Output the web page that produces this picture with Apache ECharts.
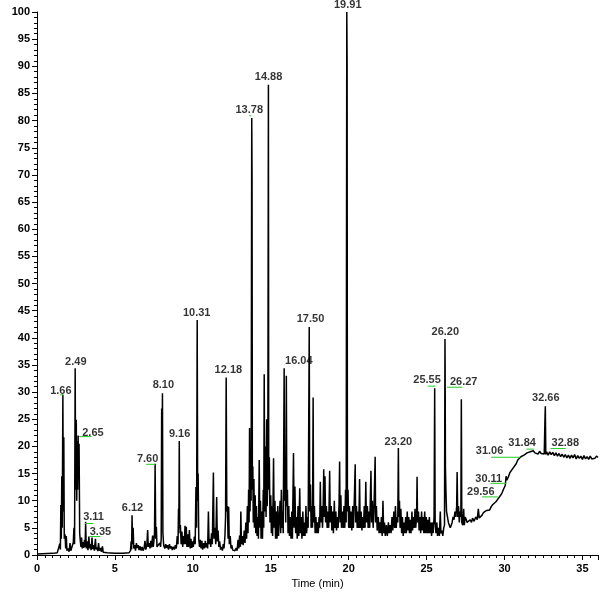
<!DOCTYPE html>
<html>
<head>
<meta charset="utf-8">
<script src="https://cdn.jsdelivr.net/npm/echarts@6/dist/echarts.min.js"></script>
<style>html,body{margin:0;padding:0;background:#fff;}#c{width:600px;height:592px;}</style>
</head>
<body>
<div id="c"></div>
<script>
// Chromatogram trace, [time (min), relative abundance]
const traceA = [[0,0.2],[1.0,0.3],[1.3,0.4],[1.42,0.6],[1.46,2.1],[1.5,1.0],[1.53,9.2],[1.56,3],[1.59,14.5],[1.62,5],[1.66,29.5],[1.69,8],[1.72,21.7],[1.75,3],[1.8,3.8],[1.84,1.2],[1.88,3.5],[1.92,0.8],[2.0,1.2],[2.06,0.6],[2.12,2.2],[2.17,0.8],[2.22,1.0],[2.28,0.6],[2.33,2.3],[2.37,5.0],[2.41,2],[2.45,34.4],[2.48,12],[2.52,24.9],[2.55,10],[2.58,21],[2.61,12],[2.64,22],[2.67,14],[2.7,20.5],[2.74,4],[2.78,2.5],[2.82,1.5],[2.86,3.2],[2.9,1.2],[2.95,2.4],[3.0,1.3],[3.05,2.8],[3.09,1.5],[3.12,6.1],[3.16,1.2],[3.22,2.5],[3.27,0.9],[3.33,3.4],[3.37,1.2],[3.42,2.0],[3.47,0.9],[3.53,3.2],[3.57,1.1],[3.63,1.8],[3.68,0.8],[3.75,3.0],[3.79,1.0],[3.85,1.4],[3.9,0.7],[3.95,2.2],[4.0,0.8],[4.08,1.3],[4.13,0.6],[4.2,1.6],[4.25,0.5],[4.35,0.7],[4.5,0.4],[5.0,0.3],[5.5,0.3],[5.9,0.4],[6.0,0.8],[6.04,2.5],[6.07,1],[6.1,7.3],[6.13,2],[6.17,5],[6.21,1.2],[6.27,1.8],[6.32,0.8],[6.38,2.2],[6.43,1.3],[6.5,1.8],[6.55,0.9],[6.62,1.6],[6.68,0.8],[6.75,1.5],[6.8,0.8],[6.87,1.2],[6.93,2.6],[6.98,1],[7.05,1.8],[7.1,4.6],[7.14,1.5],[7.2,2.2],[7.25,1.2],[7.3,2.6],[7.35,1.4],[7.42,3.6],[7.46,1.5],[7.5,2.5],[7.54,4.0],[7.58,16.8],[7.62,3],[7.66,5.2],[7.7,1.5],[7.76,1.8],[7.82,1.2],[7.88,2.2],[7.93,1.5],[7.97,3],[8.0,27],[8.02,15],[8.05,29.8],[8.08,4],[8.13,1.8],[8.2,1.2],[8.26,2.0],[8.32,1.3],[8.38,1.8],[8.44,1.0],[8.5,2.0],[8.55,1.2],[8.62,1.6],[8.68,0.9],[8.75,1.5],[8.82,1.0],[8.88,1.8],[8.94,1.2],[9.0,3.5],[9.05,2],[9.08,8.5],[9.1,4],[9.13,21],[9.16,5],[9.2,5.5],[9.25,2],[9.3,4.3],[9.35,1.5],[9.4,3.5],[9.45,2],[9.5,5.4],[9.53,2],[9.58,5.2],[9.62,1.5],[9.67,3.8],[9.72,1.5],[9.78,4.6],[9.83,1.2],[9.88,3],[9.93,1.3],[9.98,2.5],[10.03,1.5],[10.1,3.4],[10.15,2],[10.2,12.5],[10.24,5],[10.28,43.3],[10.31,10],[10.34,15],[10.38,3],[10.43,1.5],[10.48,2.8],[10.53,1.2],[10.58,2.6],[10.63,1.0],[10.7,2.2],[10.75,1.2],[10.8,2.6],[10.85,1.4],[10.9,2.2],[10.95,1.2],[11.0,8],[11.04,2],[11.1,3],[11.15,1.5],[11.2,4],[11.25,2],[11.32,15.2],[11.36,3],[11.42,5],[11.47,2],[11.53,10.7],[11.57,2.5],[11.62,4.5],[11.67,1.5],[11.72,2.5],[11.78,1.0],[11.85,1.5],[11.9,0.8],[11.95,2.0],[12.0,1.2],[12.06,3.5],[12.1,7],[12.14,32.7],[12.18,8],[12.22,9],[12.26,3],[12.3,8.9],[12.34,2],[12.4,3.5],[12.45,1.2],[12.5,1.8],[12.56,0.9],[12.62,1.2],[12.7,0.8],[12.78,1.3],[12.84,0.8],[12.9,2.8],[12.95,1.2],[13.0,3.6],[13.05,1.5],[13.08,8],[13.12,2],[13.18,3.5],[13.23,1.8],[13.3,4.5],[13.35,2.2],[13.4,6],[13.45,3],[13.5,9],[13.54,4],[13.58,12],[13.61,6],[13.64,23.4],[13.67,8],[13.71,15],[13.74,10],[13.78,80.5],[13.8,69.5],[13.82,12],[13.85,16.3],[13.88,6],[13.92,14],[13.95,5],[14.0,11],[14.04,4],[14.08,9],[14.12,3.5],[14.17,7],[14.21,3],[14.26,17.5],[14.3,5],[14.34,10],[14.38,3],[14.43,8],[14.47,3],[14.52,12],[14.55,5],[14.58,33.3],[14.62,8],[14.66,20],[14.7,7],[14.74,25],[14.77,9],[14.81,14],[14.85,86.6],[14.87,12],[14.91,18],[14.95,6]];
const traceB = [[15.0,11],[15.04,4],[15.08,9],[15.12,3.5],[15.18,17.8],[15.22,5],[15.27,10],[15.31,3],[15.36,8],[15.4,3],[15.45,9],[15.5,3.5],[15.55,7],[15.6,10],[15.64,4],[15.68,12],[15.72,5],[15.76,8],[15.8,4],[15.86,34.4],[15.89,10],[15.93,18],[15.96,6],[16.0,33],[16.03,9],[16.07,12],[16.11,4],[16.16,9],[16.2,3.5],[16.25,7],[16.3,3],[16.35,8],[16.39,3],[16.46,18.8],[16.5,5],[16.55,12.6],[16.6,4],[16.65,7],[16.7,3],[16.75,9],[16.8,3.5],[16.86,12.3],[16.9,4],[16.95,7],[17.0,3],[17.06,8],[17.1,3.5],[17.16,6],[17.2,3.5],[17.26,9],[17.3,4],[17.36,7],[17.4,5],[17.47,42],[17.5,8],[17.55,13],[17.59,5],[17.64,9],[17.68,5],[17.72,29],[17.75,6],[17.8,9],[17.85,4],[17.9,7],[17.95,4],[18.0,6],[18.05,4],[18.1,7],[18.14,5],[18.18,13.5],[18.22,6],[18.28,9],[18.32,5],[18.36,8],[18.4,15.8],[18.43,7],[18.48,14.5],[18.52,6],[18.57,9],[18.62,5],[18.67,8],[18.72,5],[18.78,15.5],[18.82,6],[18.88,9],[18.92,4.5],[18.98,8],[19.02,4],[19.08,10],[19.12,5],[19.18,8],[19.22,4.5],[19.28,7],[19.32,5],[19.38,9],[19.42,17.2],[19.45,6],[19.5,11],[19.54,5],[19.6,8],[19.65,5],[19.7,9],[19.75,5],[19.8,12],[19.84,6],[19.88,100],[19.9,90.5],[19.92,8],[19.96,12],[20.0,5],[20.05,9],[20.1,5],[20.15,8],[20.2,4.5],[20.26,9],[20.3,5],[20.36,10],[20.42,16.7],[20.45,6],[20.5,9],[20.55,5],[20.6,8],[20.65,5],[20.7,14],[20.74,5],[20.8,8],[20.85,4.5],[20.9,7],[20.95,5],[21.0,9],[21.05,5],[21.1,13.5],[21.14,6],[21.2,9],[21.25,5],[21.3,8],[21.35,5],[21.43,15.5],[21.47,6],[21.52,10],[21.57,5],[21.62,8],[21.7,18.1],[21.73,6],[21.78,9],[21.83,4.5],[21.9,7],[21.95,4],[22.0,6],[22.05,4],[22.1,7],[22.15,3.5],[22.2,10],[22.25,4],[22.3,6],[22.35,3.5],[22.42,5.5],[22.48,3.5],[22.55,6],[22.6,4],[22.66,5.5],[22.72,4],[22.78,7],[22.83,4.5],[22.9,8],[22.95,5],[23.0,9],[23.05,5],[23.1,7],[23.15,6],[23.19,19.7],[23.22,7],[23.26,10],[23.3,5],[23.35,8.5],[23.4,4],[23.45,7],[23.5,3.5],[23.55,6],[23.6,4],[23.66,7],[23.7,4],[23.76,8],[23.8,4.5],[23.86,7],[23.9,4],[23.96,6.5],[24.0,4],[24.06,8],[24.1,4.5],[24.16,7],[24.2,5],[24.26,8.5],[24.3,5],[24.36,7],[24.39,14.4],[24.42,6],[24.48,8],[24.52,4.5],[24.58,7],[24.62,4],[24.68,8],[24.72,4.5],[24.78,7],[24.82,4],[24.88,8],[24.92,4],[24.98,7],[25.02,4],[25.08,6.5],[25.12,4],[25.18,7],[25.22,4],[25.28,6],[25.32,3.5],[25.38,6],[25.42,4],[25.48,7],[25.52,30.7],[25.55,6],[25.6,4],[25.66,6],[25.7,3.5],[25.76,5],[25.82,3.5],[25.88,8],[25.92,4],[25.98,4.5],[26.04,3.5],[26.1,5],[26.15,5.5],[26.18,39.8],[26.19,35],[26.21,16],[26.24,12],[26.28,8],[26.34,7],[26.4,6],[26.46,5.5],[26.52,5],[26.58,5.5],[26.64,6],[26.7,7],[26.76,6.5],[26.82,8],[26.88,7],[26.93,9],[26.96,15.3],[27.0,7],[27.05,9],[27.1,6],[27.15,8],[27.2,7],[27.23,28.7],[27.26,6],[27.32,5.5],[27.38,8.5],[27.42,5.5],[27.48,7],[27.55,6.5],[27.6,6],[27.7,5.8],[27.8,6.5],[27.88,6],[27.95,6.8],[28.05,6.2],[28.15,7],[28.25,6.5],[28.32,8.5],[28.38,6.8],[28.45,7],[28.55,7.3],[28.65,7.8],[28.75,7.5],[28.85,8.2],[28.95,8.4],[29.05,8.3],[29.15,8.9],[29.25,9.3],[29.35,9.1],[29.45,9.8],[29.55,10.2],[29.65,10.4],[29.75,11.0],[29.85,11.5],[29.95,12.2],[30.05,12.8],[30.1,14.5],[30.15,13.8],[30.25,14.4],[30.35,15.2],[30.45,15.0],[30.55,16.0],[30.65,16.3],[30.75,16.8],[30.85,17.5],[30.95,17.6]];
const traceC = [[31.05,18.1],[31.15,17.9],[31.25,18.4],[31.35,18.2],[31.45,18.8],[31.55,18.5],[31.65,19.0],[31.75,18.7],[31.85,19.2],[31.95,18.8],[32.05,19.0],[32.15,18.6],[32.25,19.1],[32.35,18.7],[32.45,19.0],[32.55,18.6],[32.6,25.5],[32.62,27.4],[32.65,18.5],[32.7,19],[32.8,18.4],[32.9,19.0],[33.0,18.5],[33.1,18.9],[33.2,18.3],[33.3,18.8],[33.4,18.2],[33.5,18.7],[33.6,18.1],[33.7,18.6],[33.8,18.0],[33.9,18.5],[34.0,17.9],[34.1,18.4],[34.2,17.8],[34.3,18.4],[34.4,17.9],[34.5,18.5],[34.6,17.7],[34.7,18.3],[34.8,17.8],[34.9,18.2],[35.0,17.6],[35.1,18.3],[35.2,17.7],[35.3,18.1],[35.4,17.6],[35.5,18.2],[35.6,17.7],[35.7,18.0],[35.8,17.8],[35.9,18.2],[36.0,18.0]];

// Peak annotations: text and label anchor [time, abundance]
const peakLabels = ['1.66','2.49','2.65','3.11','3.35','6.12','7.60','8.10','9.16','10.31','12.18','13.78','14.88','16.04','17.50','19.91','23.20','25.55','26.20','26.27','29.56','30.11','31.06','31.84','32.66','32.88'];
const labelTimes = [1.53,2.49,3.59,3.63,4.07,6.13,7.10,8.11,9.15,10.25,12.28,13.62,14.86,16.8,17.55,19.94,23.19,25.03,26.2,27.38,28.48,28.99,29.04,31.13,32.65,33.9];
const labelLevels = [30.3,35.6,22.5,7.0,4.2,8.6,17.6,31.3,22.3,44.6,34.0,81.9,88.0,35.8,43.5,101.3,20.9,32.2,41.0,31.9,11.7,14.0,19.1,20.7,29.0,20.7];

// Green baseline marks: [start time, end time, abundance]
const greenMarks = [[1.48,1.69,29.5],[2.7,3.51,21.8],[3.08,3.62,5.8],[3.36,4.05,3.4],[7.0,7.58,16.7],[13.62,13.74,80.9],[25.07,25.57,31.1],[26.31,27.29,30.9],[28.56,29.57,10.7],[29.1,30.12,13.2],[29.14,31.02,18.0],[31.41,31.88,19.5],[32.95,33.92,19.6]];

const FONT = 'Liberation Sans';
const chart = echarts.init(document.getElementById('c'), null, {renderer: 'canvas'});
const series = [{
  type: 'line',
  data: traceA.concat(traceB, traceC),
  symbol: 'none',
  sampling: null,
  lineStyle: {color: '#000', width: 1.5},
  z: 3
}, {
  type: 'scatter',
  data: labelTimes.map((t, i) => ({value: [t, labelLevels[i]], name: peakLabels[i]})),
  symbolSize: 0,
  clip: false,
  label: {show: true, position: 'inside', formatter: p => p.name, color: '#000', fontFamily: FONT, fontWeight: 'bold', fontSize: 11},
  labelLayout: {hideOverlap: false},
  z: 5
}];
greenMarks.forEach(m => {
  series.push({type: 'line', data: [[m[0], m[2]], [m[1], m[2]]], symbol: 'none', lineStyle: {color: '#22cc22', width: 1}, z: 4});
});

chart.setOption({
  animation: false,
  backgroundColor: '#fff',
  grid: {left: 37, right: 2, top: 12, bottom: 37, containLabel: false, outerBoundsMode: 'none'},
  xAxis: {
    type: 'value', min: 0, max: 36, interval: 5,
    name: 'Time (min)', nameLocation: 'middle', nameGap: 19,
    nameTextStyle: {fontFamily: FONT, fontSize: 11, color: '#000'},
    axisLine: {show: true, lineStyle: {color: '#000', width: 1}},
    axisTick: {show: true, length: 5, lineStyle: {color: '#000'}},
    minorTick: {show: true, splitNumber: 10, length: 3, lineStyle: {color: '#000'}},
    axisLabel: {fontFamily: FONT, fontSize: 11, fontWeight: 'bold', color: '#000', margin: 8,
      formatter: v => (v % 5 === 0 ? String(v) : '')},
    splitLine: {show: false}
  },
  yAxis: {
    type: 'value', min: 0, max: 100, interval: 5,
    name: 'Relative Abundance', nameLocation: 'middle', nameGap: 30, nameRotate: 90,
    nameTextStyle: {fontFamily: FONT, fontSize: 10, color: '#000'},
    axisLine: {show: true, lineStyle: {color: '#000', width: 1}},
    axisTick: {show: true, length: 5, lineStyle: {color: '#000'}},
    minorTick: {show: true, splitNumber: 5, length: 3, lineStyle: {color: '#000'}},
    axisLabel: {fontFamily: FONT, fontSize: 11, fontWeight: 'bold', color: '#000', margin: 7},
    splitLine: {show: false}
  },
  series: series
});
</script>
</body>
</html>
